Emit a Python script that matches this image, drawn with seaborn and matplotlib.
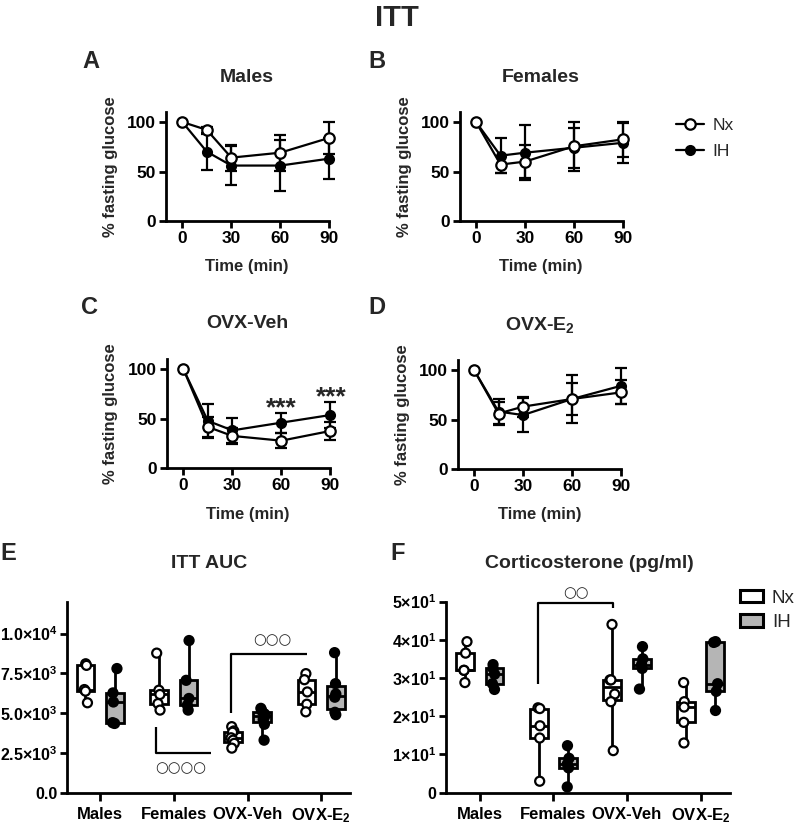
import numpy as np
import pandas as pd
import matplotlib
matplotlib.use("Agg")
import matplotlib.pyplot as plt
import seaborn as sns
from matplotlib.lines import Line2D
from matplotlib.patches import Patch

np.random.seed(3)

# ---------------- data ----------------
times = [0, 15, 30, 60, 90]

males_nx_mean = [100, 92, 64, 69, 84]
males_nx_sd = [0, 3, 13, 18, 16]
males_ih_mean = [100, 70, 56, 56, 63]
males_ih_sd = [0, 18, 20, 26, 21]

females_nx_mean = [100, 57, 60, 75.5, 82.5]
females_nx_sd = [0, 9, 17, 25, 18]
females_ih_mean = [100, 66, 69, 74, 79]
females_ih_sd = [0, 18, 28, 20, 20]

ovxveh_nx_mean = [100, 41.5, 32.4, 27.6, 37.4]
ovxveh_nx_sd = [0, 10, 8, 7.5, 9]
ovxveh_ih_mean = [100, 47.6, 38, 45.8, 53.5]
ovxveh_ih_sd = [0, 17, 13, 10, 13]

ovxe2_nx_mean = [100, 56, 63, 70.7, 77.4]
ovxe2_nx_sd = [0, 12, 10, 16, 12]
ovxe2_ih_mean = [100, 58, 54.5, 70.7, 84]
ovxe2_ih_sd = [0, 13, 17, 24, 18]

groups = ["Males", "Females", "OVX-Veh", "OVX-E2"]
group_labels = ["Males", "Females", "OVX-Veh", "OVX-E$_2$"]
conditions = ["Nx", "IH"]

auc_males_nx = [8100, 8000, 6480, 6380, 5650]
auc_males_ih = [7800, 6270, 5700, 4400, 4350]
auc_females_nx = [8770, 6440, 6170, 5600, 5190]
auc_females_ih = [9560, 7060, 5920, 5500, 5190]
auc_ovxveh_nx = [4150, 3880, 3800, 3450, 3300, 3100, 2800]
auc_ovxveh_ih = [5300, 5150, 4950, 4800, 4600, 4300, 3300]
auc_ovxe2_nx = [7480, 7100, 6330, 5560, 5080]
auc_ovxe2_ih = [8800, 6850, 6200, 6000, 5050, 4900]

cort_males_nx = [39.5, 36.5, 32, 32, 28.8]
cort_males_ih = [33.5, 32.5, 31, 28.5, 27]
cort_females_nx = [22.2, 22.0, 17.5, 14.3, 3.0]
cort_females_ih = [12.3, 9.0, 7.5, 6.5, 1.5]
cort_ovxveh_nx = [44, 29.5, 29.5, 25.8, 23.8, 11]
cort_ovxveh_ih = [38.2, 35, 33.5, 32.5, 27.1]
cort_ovxe2_nx = [28.8, 23.8, 22.4, 18.4, 13.0]
cort_ovxe2_ih = [39.5, 39.3, 28.5, 26.5, 21.5]

auc_yticks = [0, 2500, 5000, 7500, 10000]
auc_yticklabels = ["0.0", "2.5×10$^3$", "5.0×10$^3$", "7.5×10$^3$", "1.0×10$^4$"]
cort_yticks = [0, 10, 20, 30, 40, 50]
cort_yticklabels = ["0", "1×10$^1$", "2×10$^1$", "3×10$^1$", "4×10$^1$", "5×10$^1$"]


def long_df(series):
    rows = []
    for g, (nx, ih) in zip(groups, series):
        rows += [(g, "Nx", v) for v in nx]
        rows += [(g, "IH", v) for v in ih]
    return pd.DataFrame(rows, columns=["group", "cond", "value"])


auc_df = long_df([(auc_males_nx, auc_males_ih), (auc_females_nx, auc_females_ih),
                  (auc_ovxveh_nx, auc_ovxveh_ih), (auc_ovxe2_nx, auc_ovxe2_ih)])
cort_df = long_df([(cort_males_nx, cort_males_ih), (cort_females_nx, cort_females_ih),
                   (cort_ovxveh_nx, cort_ovxveh_ih), (cort_ovxe2_nx, cort_ovxe2_ih)])

# ---------------- style ----------------
sns.set_theme(style="ticks")
plt.rcParams.update({
    "font.family": ["Liberation Sans", "DejaVu Sans"],
    "font.weight": "bold",
    "axes.labelweight": "bold",
    "axes.titleweight": "bold",
    "mathtext.fontset": "custom",
    "mathtext.rm": "Liberation Sans:bold",
    "mathtext.bf": "Liberation Sans:bold",
    "mathtext.it": "Liberation Sans:bold:italic",
    "mathtext.default": "rm",
    "axes.linewidth": 1.9,
    "xtick.major.width": 1.9,
    "ytick.major.width": 1.9,
    "xtick.major.size": 5,
    "ytick.major.size": 5,
    "xtick.color": "black",
    "ytick.color": "black",
    "axes.edgecolor": "black",
})

W, H = 794, 826
fig = plt.figure(figsize=(W / 100, H / 100), dpi=100)


def px_axes(left, top, right, bottom):
    return fig.add_axes([left / W, 1 - bottom / H, (right - left) / W, (bottom - top) / H])


def ftext(x, y, s, **kw):
    kw.setdefault("ha", "center")
    kw.setdefault("va", "center")
    kw.setdefault("fontweight", "bold")
    fig.text(x / W, 1 - y / H, s, **kw)


def style_axes(ax):
    sns.despine(ax=ax)
    for sp in ("left", "bottom"):
        ax.spines[sp].set_linewidth(2.0)
        ax.spines[sp].set_color("black")
    ax.tick_params(length=5, width=2.0, pad=2, colors="black")


def draw_time(ax, nx_m, nx_sd, ih_m, ih_sd):
    ax.errorbar(times[1:], ih_m[1:], yerr=ih_sd[1:], fmt="none", ecolor="black",
                elinewidth=1.6, capsize=4, capthick=1.6, zorder=2, clip_on=False)
    ax.errorbar(times[1:], nx_m[1:], yerr=nx_sd[1:], fmt="none", ecolor="black",
                elinewidth=1.6, capsize=4, capthick=1.6, zorder=2, clip_on=False)
    sns.lineplot(x=times, y=ih_m, ax=ax, color="black", lw=1.6, marker="o",
                 markersize=6.5, markerfacecolor="black", markeredgecolor="black",
                 markeredgewidth=1.5, zorder=3, clip_on=False)
    sns.lineplot(x=times, y=nx_m, ax=ax, color="black", lw=1.6, marker="o",
                 markersize=7.5, markerfacecolor="white", markeredgecolor="black",
                 markeredgewidth=1.6, zorder=4, clip_on=False)
    ax.set_xlim(-10, 90)
    ax.set_ylim(0, 110)
    ax.set_xticks([0, 30, 60, 90])
    ax.set_yticks([0, 50, 100])
    ax.set_xticklabels(["0", "30", "60", "90"], fontsize=12.5, fontweight="bold")
    ax.set_yticklabels(["0", "50", "100"], fontsize=12.5, fontweight="bold")
    ax.set_xlabel("")
    ax.set_ylabel("")
    style_axes(ax)


axA = px_axes(166, 112.1, 329.3, 221)
axB = px_axes(459.7, 112.1, 623, 221)
axC = px_axes(167, 359.1, 330.3, 468)
axD = px_axes(457.7, 360.1, 621, 469)

draw_time(axA, males_nx_mean, males_nx_sd, males_ih_mean, males_ih_sd)
draw_time(axB, females_nx_mean, females_nx_sd, females_ih_mean, females_ih_sd)
draw_time(axC, ovxveh_nx_mean, ovxveh_nx_sd, ovxveh_ih_mean, ovxveh_ih_sd)
draw_time(axD, ovxe2_nx_mean, ovxe2_nx_sd, ovxe2_ih_mean, ovxe2_ih_sd)

axC.text(60, 53.5, "***", ha="center", va="baseline", fontsize=19, fontweight="bold")
axC.text(90.6, 64.6, "***", ha="center", va="baseline", fontsize=19, fontweight="bold", clip_on=False)


def draw_box(ax, df, ylim, yticks, yticklabels):
    sns.boxplot(data=df, x="group", y="value", hue="cond", order=groups, hue_order=conditions,
                palette={"Nx": "white", "IH": "#b5b5b5"}, whis=(0, 100), width=0.8, gap=0.4,
                linewidth=2.0, linecolor="black", showfliers=False, showcaps=False,
                dodge=True, legend=False, ax=ax)
    sns.stripplot(data=df, x="group", y="value", hue="cond", order=groups, hue_order=conditions,
                  palette={"Nx": "white", "IH": "black"}, edgecolor="black", linewidth=1.6,
                  size=6.5, jitter=0.07, dodge=True, legend=False, ax=ax, zorder=5, clip_on=False)
    ax.set_ylim(*ylim)
    ax.set_yticks(yticks)
    ax.set_yticklabels(yticklabels, fontsize=11.5, fontweight="bold")
    ax.set_xticks(range(len(groups)))
    ax.set_xticklabels(group_labels, fontsize=12, fontweight="bold")
    ax.set_xlabel("")
    ax.set_ylabel("")
    style_axes(ax)
    ax.tick_params(axis="x", length=6, pad=4)


axE = px_axes(67, 601.7, 350, 792.7)
draw_box(axE, auc_df, (0, 12000), auc_yticks, auc_yticklabels)
axE.set_xlim(-0.45, 3.39)

axF = px_axes(446, 601.5, 730, 792.7)
draw_box(axF, cort_df, (0, 50), cort_yticks, cort_yticklabels)
axF.set_xlim(-0.46, 3.4)

# significance brackets
bk = dict(color="black", lw=1.6, clip_on=False, solid_capstyle="butt")
axE.plot([0.76, 0.76, 1.5], [4150, 2500, 2500], **bk)
axE.plot([1.78, 1.78, 2.80], [4980, 8740, 8740], **bk)
circ = dict(ha="center", va="center", fontsize=10.5, family="DejaVu Sans", fontweight="bold")
axE.text(1.09, 1590, "○○○○", **circ)
axE.text(2.33, 9620, "○○○", **circ)
axF.plot([0.79, 0.79, 1.81, 1.81], [28.4, 49.7, 49.7, 48.4], **bk)
axF.text(1.31, 52.4, "○○", clip_on=False, **circ)

# legends
fig.legend(handles=[
    Line2D([], [], color="black", lw=1.6, marker="o", markersize=7.5, markerfacecolor="white",
           markeredgecolor="black", markeredgewidth=1.6, label="Nx"),
    Line2D([], [], color="black", lw=1.6, marker="o", markersize=6.5, markerfacecolor="black",
           markeredgecolor="black", markeredgewidth=1.5, label="IH")],
    loc="center left", bbox_to_anchor=(676 / W, 1 - 138.5 / H), frameon=False,
    prop={"size": 12.5, "weight": "normal"}, handlelength=1.6, handletextpad=0.5,
    borderpad=0, borderaxespad=0, labelspacing=0.6)

axF.legend(handles=[Patch(facecolor="white", edgecolor="black", lw=2.2, label="Nx"),
                    Patch(facecolor="#b5b5b5", edgecolor="black", lw=2.2, label="IH")],
           loc="center left", bbox_to_anchor=(1.035, 0.953), frameon=False,
           prop={"size": 13.5, "weight": "normal"}, handlelength=1.25, handleheight=0.65,
           handletextpad=0.45, borderpad=0, borderaxespad=0, labelspacing=0.4)

# titles, labels, letters
ftext(397, 18, "ITT", fontsize=21)
ftext(91, 62, "A", fontsize=17)
ftext(377, 62, "B", fontsize=17)
ftext(89, 308, "C", fontsize=17)
ftext(377, 308, "D", fontsize=17)
ftext(8, 553, "E", fontsize=17)
ftext(398, 553, "F", fontsize=17)

ftext(247, 77, "Males", fontsize=14)
ftext(541, 77, "Females", fontsize=14)
ftext(247, 323, "OVX-Veh", fontsize=14)
ftext(540, 325, "OVX-E$_2$", fontsize=14)
ftext(209, 563, "ITT AUC", fontsize=14)
ftext(589, 563, "Corticosterone (pg/ml)", fontsize=14)

for x, y in [(110, 166.5), (405, 166.5), (110, 413.5), (403, 414.5)]:
    ftext(x, y, "% fasting glucose", fontsize=12, rotation=90)
for x, y in [(247, 266), (541, 266), (248, 515), (540, 515)]:
    ftext(x, y, "Time (min)", fontsize=12)

fig.savefig("out.png", dpi=100)
